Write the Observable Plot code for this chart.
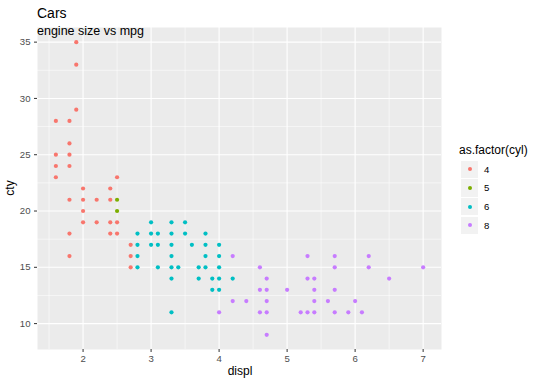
<!DOCTYPE html>
<html>
<head>
<meta charset="utf-8">
<script src="https://cdn.jsdelivr.net/npm/d3@7"></script>
<script src="https://cdn.jsdelivr.net/npm/@observablehq/plot@0.6"></script>
<style>
  html, body { margin: 0; padding: 0; background: #fff; }
  #wrap { position: relative; width: 540px; height: 386px; font-family: "Liberation Sans", Arial, sans-serif; overflow: hidden; }
  #wrap svg { position: absolute; left: 0; top: 0; }
  .t { position: absolute; white-space: nowrap; line-height: 1; }
</style>
</head>
<body>
<div id="wrap"></div>
<script>
// ---- data ----
const cyl4Displ = [1.6,1.6,1.6,1.6, 1.8,1.8,1.8,1.8,1.8,1.8,1.8, 1.9,1.9,1.9, 2.0,2.0,2.0,2.0, 2.2,2.2, 2.4,2.4,2.4,2.4, 2.5,2.5,2.5, 2.7,2.7,2.7];
const cyl4Cty   = [23,24,25,28, 16,18,21,24,25,26,28, 29,33,35, 19,20,21,22, 19,21, 18,19,21,22, 18,19,23, 15,16,17];
const cyl5Displ = [2.5,2.5];
const cyl5Cty   = [20,21];
const cyl6Displ = [2.8,2.8,2.8,2.8, 3.0,3.0,3.0, 3.1,3.1,3.1, 3.3,3.3,3.3,3.3,3.3,3.3,3.3, 3.4, 3.5,3.5, 3.6, 3.7,3.7, 3.8,3.8,3.8,3.8, 3.9,3.9, 4.0,4.0,4.0,4.0,4.0, 4.2];
const cyl6Cty   = [15,16,17,18, 17,18,19, 15,17,18, 11,14,15,16,17,18,19, 15, 18,19, 17, 14,15, 15,16,17,18, 13,14, 13,14,15,16,17, 14];
const cyl8Displ = [4.0, 4.2,4.2, 4.4, 4.6,4.6,4.6, 4.7,4.7,4.7,4.7,4.7, 5.0, 5.2, 5.3,5.3,5.3, 5.4,5.4,5.4,5.4, 5.6, 5.7,5.7,5.7,5.7, 5.9, 6.0, 6.1, 6.2,6.2, 6.5, 7.0];
const cyl8Cty   = [11, 12,16, 12, 11,13,15, 9,11,12,13,14, 13, 11, 11,14,16, 11,12,13,14, 12, 11,13,15,16, 11, 12, 11, 15,16, 14, 15];

const cylLevels = ["4","5","6","8"];
const cylColors = ["#F8766D","#7CAE00","#00BFC4","#C77CFF"];
const xTicks = [2,3,4,5,6,7];
const yTicks = [10,15,20,25,30,35];
const xMinor = [1.5,2.5,3.5,4.5,5.5,6.5];
const yMinor = [12.5,17.5,22.5,27.5,32.5];

const titleText = "Cars";
const subtitleText = "engine size vs mpg";
const xLabel = "displ";
const yLabel = "cty";
const legendTitle = "as.factor(cyl)";

// ---- build table ----
const groups = [[cyl4Displ, cyl4Cty, "4"], [cyl5Displ, cyl5Cty, "5"], [cyl6Displ, cyl6Cty, "6"], [cyl8Displ, cyl8Cty, "8"]];
const data = [];
for (const [dx, cy, c] of groups) dx.forEach((d, i) => data.push({displ: d, cty: cy[i], cyl: c}));

const chart = Plot.plot({
  width: 540,
  height: 386,
  marginLeft: 37,
  marginRight: 99,
  marginTop: 27,
  marginBottom: 37,
  style: {fontFamily: "'Liberation Sans', Arial, sans-serif", fontSize: "9.6px", color: "#4D4D4D", background: "transparent"},
  x: {domain: [1.33, 7.27]},
  y: {domain: [7.7, 36.3]},
  color: {domain: cylLevels, range: cylColors},
  marks: [
    Plot.frame({fill: "#EBEBEB", stroke: "none"}),
    Plot.ruleX(xMinor, {stroke: "white", strokeWidth: 0.55}),
    Plot.ruleY(yMinor, {stroke: "white", strokeWidth: 0.55}),
    Plot.ruleX(xTicks, {stroke: "white", strokeWidth: 1.1}),
    Plot.ruleY(yTicks, {stroke: "white", strokeWidth: 1.1}),
    Plot.dot(data, {x: "displ", y: "cty", fill: "cyl", r: 2.1, stroke: "none"}),
    Plot.axisX({ticks: xTicks, tickSize: 3, tickPadding: 3, label: null, stroke: "#333", tickFormat: d => String(d)}),
    Plot.axisY({ticks: yTicks, tickSize: 3, tickPadding: 4, label: null, stroke: "#333", tickFormat: d => String(d)})
  ]
});

const wrap = document.getElementById("wrap");
wrap.appendChild(chart);

function addText(txt, left, top, size, color, extra) {
  const d = document.createElement("div");
  d.className = "t";
  d.textContent = txt;
  d.style.left = left + "px";
  d.style.top = top + "px";
  d.style.fontSize = size + "px";
  d.style.color = color;
  if (extra) Object.assign(d.style, extra);
  wrap.appendChild(d);
  return d;
}

addText(titleText, 37, 6, 14, "#000");
addText(subtitleText, 37, 25, 12.5, "#000");
addText(xLabel, 240, 365, 12, "#000", {transform: "translateX(-50%)"});
addText(yLabel, 10, 188, 12, "#000", {transform: "translate(-50%,-50%) rotate(-90deg)"});
addText(legendTitle, 459, 144, 12, "#000");

// legend keys
cylLevels.forEach((lv, i) => {
  const cy = 169.3 + i * 18.7;
  const box = document.createElement("div");
  box.style.cssText = `position:absolute;left:461px;top:${cy - 8.6}px;width:17.3px;height:17.3px;background:#F2F2F2;`;
  wrap.appendChild(box);
  const dot = document.createElement("div");
  dot.style.cssText = `position:absolute;left:${469.6 - 2.1}px;top:${cy - 2.1}px;width:4.2px;height:4.2px;border-radius:50%;background:${cylColors[i]};`;
  wrap.appendChild(dot);
  addText(lv, 484, cy - 4.7, 9.6, "#000");
});
</script>
</body>
</html>
